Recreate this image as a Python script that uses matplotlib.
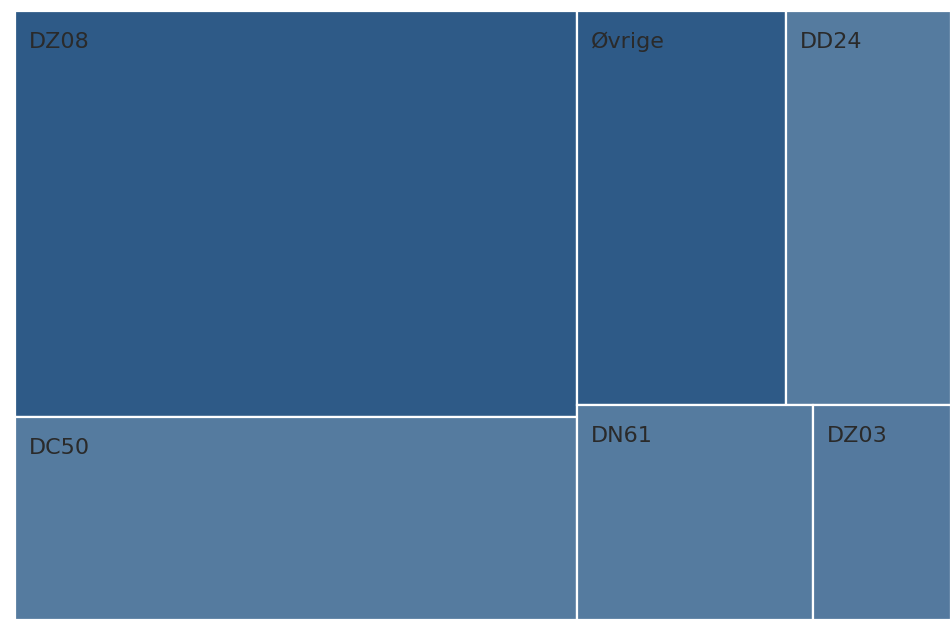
import matplotlib
matplotlib.use('Agg')
import matplotlib.pyplot as plt
import matplotlib.patches as patches

# ========================== DATA ==========================
LABELS = ['DZ08', 'DC50', 'Øvrige', 'DD24', 'DN61', 'DZ03']
VALUES = [40.0, 20.0, 14.5, 11.4, 8.9, 5.2]
COLORS = ['#2e5a87', '#557b9f', '#2e5a87', '#557b9f', '#557b9f', '#54799e']
# ==========================================================

PHI = (1 + 5 ** 0.5) / 2


def squarify(values, x0, y0, x1, y1, ratio=PHI):
    # d3-style squarified layout, values assumed sorted descending
    rects = []
    total = sum(values)
    n = len(values)
    i0 = 0
    while i0 < n:
        dx, dy = x1 - x0, y1 - y0
        i1 = i0
        s = values[i1]
        i1 += 1
        vmin = vmax = s
        alpha = max(dy / dx, dx / dy) / (total * ratio)
        beta = s * s * alpha
        best = max(vmax / beta, beta / vmin)
        while i1 < n:
            v = values[i1]
            s2 = s + v
            beta = s2 * s2 * alpha
            r = max(max(vmax, v) / beta, beta / min(vmin, v))
            if r > best:
                break
            s = s2
            vmin, vmax = min(vmin, v), max(vmax, v)
            best = r
            i1 += 1
        row = values[i0:i1]
        if dx < dy:
            # horizontal row across the top
            h = dy * s / total
            cx = x0
            for v in row:
                w = dx * v / s
                rects.append((cx, y0, w, h))
                cx += w
            y0 += h
        else:
            # vertical column on the left
            w = dx * s / total
            cy = y0
            for v in row:
                h = dy * v / s
                rects.append((x0, cy, w, h))
                cy += h
            x0 += w
        total -= s
        i0 = i1
    return rects


fig = plt.figure(figsize=(9.5, 6.19), dpi=100)
ax = fig.add_axes([0, 0, 1, 1])
ax.set_xlim(0, 950)
ax.set_ylim(619, 0)
ax.axis('off')

rects = squarify(VALUES, 15, 11, 951, 620)

for (x, y, w, h), label, color in zip(rects, LABELS, COLORS):
    ax.add_patch(patches.Rectangle((x, y), w, h, facecolor=color,
                                   edgecolor='white', linewidth=1.6))
    ax.text(x + 14, y + 37, label, fontsize=16, color='#2a2a2a',
            family='DejaVu Sans', va='baseline', ha='left')

fig.savefig('out.png', dpi=100, facecolor='white')
